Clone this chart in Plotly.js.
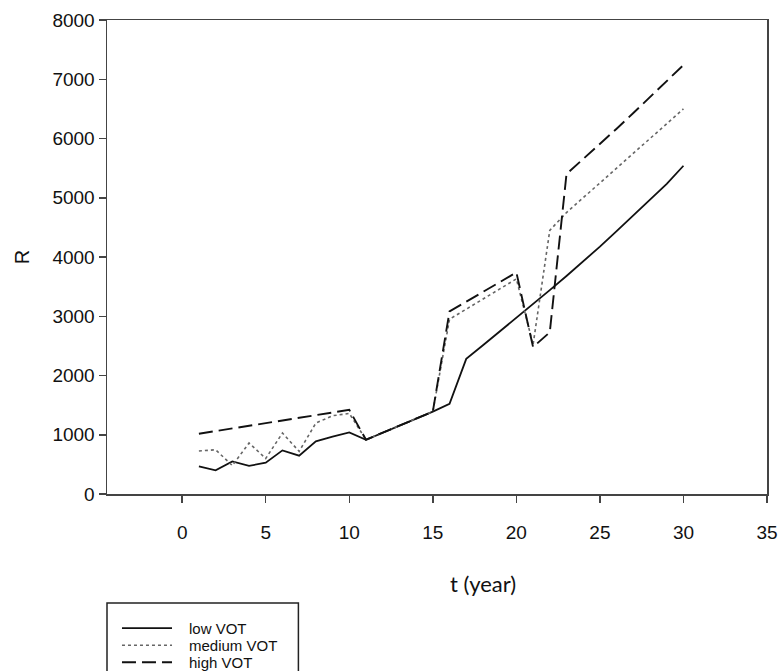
<!DOCTYPE html>
<html>
<head>
<meta charset="utf-8">
<script src="https://cdn.plot.ly/plotly-3.0.1.min.js"></script>
<style>
html,body{margin:0;padding:0;background:#fff;}
#chart{width:782px;height:671px;}
</style>
</head>
<body>
<div id="chart"></div>
<script>
var years = [1,2,3,4,5,6,7,8,9,10,11,12,13,14,15,16,17,18,19,20,21,22,23,24,25,26,27,28,29,30];
var lowVOT = [466,399,550,475,528,736,646,888,967,1040,916,1035,1155,1275,1390,1523,2280,2510,2740,2970,3205,3440,3680,3925,4175,4438,4700,4965,5235,5540];
var mediumVOT = [725,747,480,860,600,1029,719,1197,1321,1360,916,1035,1155,1275,1390,2950,3120,3290,3460,3630,2520,4450,4750,5000,5245,5490,5740,5990,6245,6500];
var highVOT = [1017,1062,1107,1152,1197,1242,1288,1333,1378,1420,916,1035,1155,1275,1390,3081,3245,3410,3575,3740,2480,2730,5400,5650,5905,6165,6430,6695,6965,7240];
var seriesNames = ['low VOT','medium VOT','high VOT'];
var xTicks = [0,5,10,15,20,25,30,35];
var yTicks = [0,1000,2000,3000,4000,5000,6000,7000,8000];

var lineStyles = [
  {color: '#111', width: 1.8, dash: 'solid'},
  {color: '#666', width: 1.6, dash: 'dot'},
  {color: '#111', width: 1.9, dash: '14px,6px'}
];
var seriesData = [lowVOT, mediumVOT, highVOT];

var traces = seriesData.map(function (vals, i) {
  return {x: years, y: vals, name: seriesNames[i], mode: 'lines', type: 'scatter',
          line: lineStyles[i], showlegend: false};
});

var axisFont = {family: 'Liberation Sans, Arial, sans-serif', size: 19, color: '#111'};

// boxed key below the plot (paper coordinates)
var legendRowsY = [-0.283, -0.319, -0.355];
var shapes = [
  {type: 'rect', xref: 'paper', yref: 'paper', x0: 0, x1: 0.29, y0: -0.23, y1: -0.6,
   line: {color: '#222', width: 1.5}, fillcolor: 'rgba(0,0,0,0)'}
];
var annotations = [
  {text: 't (year)', xref: 'paper', yref: 'paper', x: 0.5697, y: -0.188,
   xanchor: 'center', yanchor: 'middle', showarrow: false,
   font: {family: 'Lato, Carlito, sans-serif', size: 22, color: '#111'}}
];
seriesNames.forEach(function (nm, i) {
  shapes.push({type: 'line', xref: 'paper', yref: 'paper', x0: 0.0227, x1: 0.0985,
               y0: legendRowsY[i], y1: legendRowsY[i], line: lineStyles[i]});
  annotations.push({text: nm, xref: 'paper', yref: 'paper', x: 0.1212, y: legendRowsY[i],
                    xanchor: 'left', yanchor: 'middle', showarrow: false,
                    font: {family: 'Liberation Sans, Arial, sans-serif', size: 15, color: '#111'}});
});

var layout = {
  width: 782, height: 671,
  paper_bgcolor: '#fff', plot_bgcolor: '#fff',
  margin: {l: 107, r: 15, t: 20, b: 177, autoexpand: false},
  showlegend: false,
  xaxis: {
    range: [-4.5, 35], tickvals: xTicks, ticktext: xTicks.map(String),
    ticks: 'outside', ticklen: 7, tickwidth: 1.5, tickcolor: '#444',
    showline: true, linecolor: '#444', linewidth: 1.5, mirror: true,
    showgrid: false, zeroline: false, tickfont: axisFont, ticklabelstandoff: 14
  },
  yaxis: {
    range: [0, 8000], tickvals: yTicks, ticktext: yTicks.map(String),
    ticks: 'outside', ticklen: 7, tickwidth: 1.5, tickcolor: '#444',
    showline: true, linecolor: '#444', linewidth: 1.5, mirror: true,
    showgrid: false, zeroline: false, tickfont: axisFont, ticklabelstandoff: 0,
    title: {text: 'R', font: {family: 'Liberation Sans, Arial, sans-serif', size: 20, color: '#111'}, standoff: 17}
  },
  shapes: shapes,
  annotations: annotations
};

Plotly.newPlot('chart', traces, layout, {displayModeBar: false, staticPlot: true});
</script>
</body>
</html>
